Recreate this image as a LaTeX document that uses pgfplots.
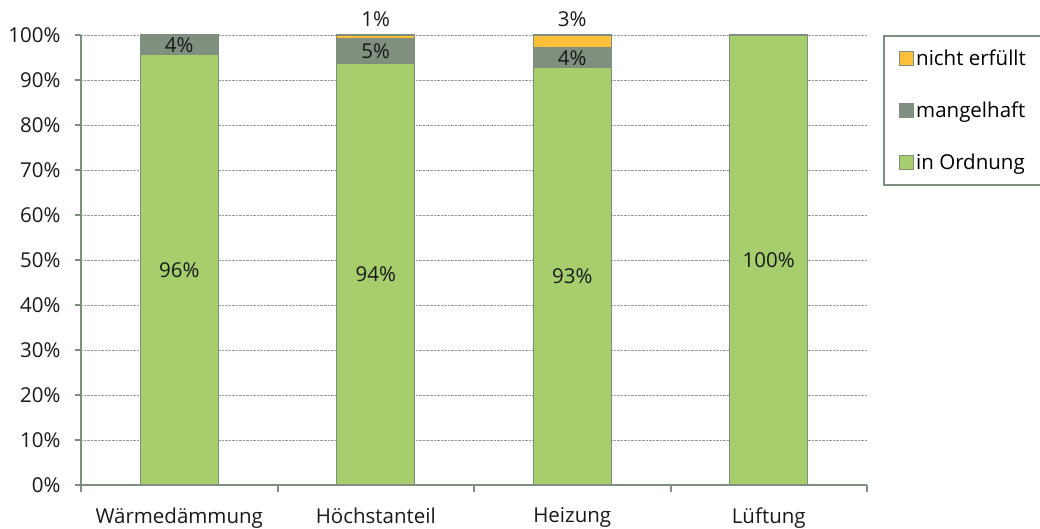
\documentclass[border=0pt]{standalone}
\usepackage{pgfplots}
\pgfplotsset{compat=1.18}
\usepackage{fontspec}
\setmainfont{Open Sans}
\definecolor{okgreen}{HTML}{A6CE6C}
\definecolor{mangel}{HTML}{7F907F}
\definecolor{nicht}{HTML}{FFC039}
\definecolor{axiscol}{HTML}{7F8F7E}
\tikzset{lbl/.style={font=\fontsize{20.5bp}{24bp}\selectfont, text=black!90}}
\begin{document}
\begin{tikzpicture}
\useasboundingbox (0,0) rectangle (1040bp,529bp);
\begin{axis}[
  at={(81bp,44bp)}, anchor=south west,
  scale only axis, width=786bp, height=450bp,
  ybar stacked, bar width=78bp,
  xmin=-0.5, xmax=3.5, ymin=0, ymax=100,
  clip=false,
  axis x line*=bottom, axis y line*=left,
  axis line style={draw=axiscol, line width=2bp},
  xtick={0,1,2,3},
  xticklabels={Wärmedämmung, Höchstanteil, Heizung, Lüftung},
  minor xtick={-0.5,0.5,1.5,2.5,3.5},
  x tick style={draw=none},
  minor x tick style={draw=axiscol, line width=2bp},
  minor tick length=7bp,
  ytick={0,10,...,100},
  yticklabels={0\%,10\%,20\%,30\%,40\%,50\%,60\%,70\%,80\%,90\%,100\%},
  y tick style={draw=axiscol, line width=2bp},
  major tick length=6bp,
  tick align=outside,
  ymajorgrids,
  grid style={densely dotted, draw=gray!80, line width=0.7bp},
  tick label style={font=\fontsize{20.5bp}{24bp}\selectfont, text=black!90},
  xticklabel style={yshift=-13bp},
  yticklabel style={xshift=-11bp},
  legend style={at={(1,1)}, anchor=north west, xshift=16bp,
    draw=axiscol, line width=2bp, font=\fontsize{20.5bp}{24bp}\selectfont,
    row sep=31bp, inner xsep=15bp, inner ysep=12bp},
  legend cell align=left,
  reverse legend,
  legend image code/.code={\draw[#1, draw=axiscol, line width=1.2bp] (0bp,-7bp) rectangle (14bp,7bp);},
]
\addplot[fill=okgreen, draw=axiscol, line width=1.3bp] coordinates {(0,95.6) (1,93.8) (2,92.7) (3,100)};
\addplot[fill=mangel, draw=axiscol, line width=1.3bp] coordinates {(0,4.4) (1,5.4) (2,4.4) (3,0)};
\addplot[fill=nicht, draw=axiscol, line width=1.3bp] coordinates {(0,0) (1,0.8) (2,2.9) (3,0)};
\legend{in Ordnung\hspace*{30bp}, mangelhaft, nicht erfüllt}
\coordinate (g0) at (axis cs:0,47.8);
\coordinate (g1) at (axis cs:1,46.9);
\coordinate (g2) at (axis cs:2,46.35);
\coordinate (g3) at (axis cs:3,50);
\coordinate (m0) at (axis cs:0,97.8);
\coordinate (m1) at (axis cs:1,96.5);
\coordinate (m2) at (axis cs:2,94.9);
\coordinate (n1) at (axis cs:1,103.6);
\coordinate (n2) at (axis cs:2,103.6);
\end{axis}
\node[lbl] at (g0) {96\%};
\node[lbl] at (g1) {94\%};
\node[lbl] at (g2) {93\%};
\node[lbl] at (g3) {100\%};
\node[lbl] at (m0) {4\%};
\node[lbl] at (m1) {5\%};
\node[lbl] at (m2) {4\%};
\node[lbl] at (n1) {1\%};
\node[lbl] at (n2) {3\%};
\end{tikzpicture}
\end{document}
